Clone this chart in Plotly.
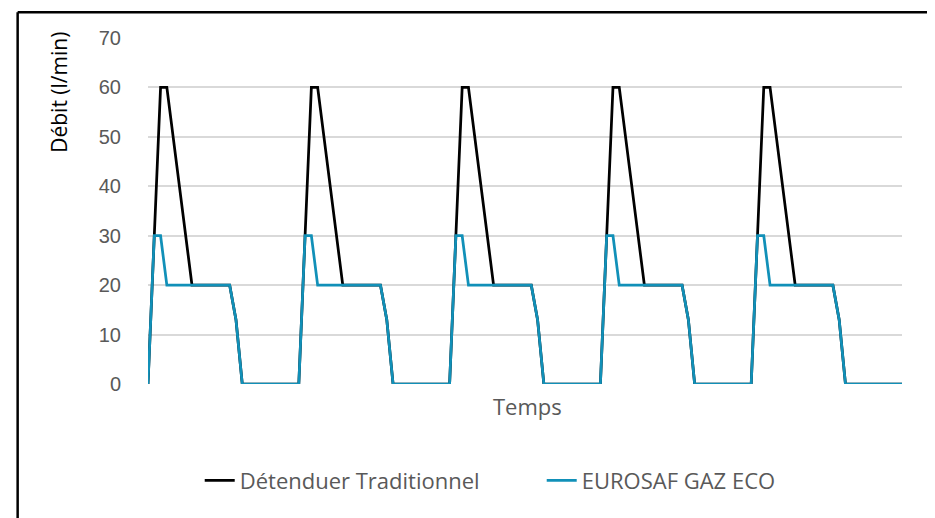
import plotly.graph_objects as go

# Time index (category positions, no labels shown)
temps = list(range(121))

# Flow values (l/min)
detendeur_traditionnel = [
    0, 30, 60, 60, 50, 40, 30, 20, 20, 20, 20, 20, 20, 20, 13, 0, 0, 0, 0, 0, 0, 0, 0, 0,
    0, 30, 60, 60, 50, 40, 30, 20, 20, 20, 20, 20, 20, 20, 13, 0, 0, 0, 0, 0, 0, 0, 0, 0,
    0, 30, 60, 60, 50, 40, 30, 20, 20, 20, 20, 20, 20, 20, 13, 0, 0, 0, 0, 0, 0, 0, 0, 0,
    0, 30, 60, 60, 50, 40, 30, 20, 20, 20, 20, 20, 20, 20, 13, 0, 0, 0, 0, 0, 0, 0, 0, 0,
    0, 30, 60, 60, 50, 40, 30, 20, 20, 20, 20, 20, 20, 20, 13, 0, 0, 0, 0, 0, 0, 0, 0, 0,
    0,
]
eurosaf_gaz_eco = [
    0, 30, 30, 20, 20, 20, 20, 20, 20, 20, 20, 20, 20, 20, 13, 0, 0, 0, 0, 0, 0, 0, 0, 0,
    0, 30, 30, 20, 20, 20, 20, 20, 20, 20, 20, 20, 20, 20, 13, 0, 0, 0, 0, 0, 0, 0, 0, 0,
    0, 30, 30, 20, 20, 20, 20, 20, 20, 20, 20, 20, 20, 20, 13, 0, 0, 0, 0, 0, 0, 0, 0, 0,
    0, 30, 30, 20, 20, 20, 20, 20, 20, 20, 20, 20, 20, 20, 13, 0, 0, 0, 0, 0, 0, 0, 0, 0,
    0, 30, 30, 20, 20, 20, 20, 20, 20, 20, 20, 20, 20, 20, 13, 0, 0, 0, 0, 0, 0, 0, 0, 0,
    0,
]
series_names = ["Détenduer Traditionnel", "EUROSAF GAZ ECO"]
y_ticks = [0, 10, 20, 30, 40, 50, 60, 70]

fig = go.Figure()
fig.add_trace(go.Scatter(x=temps, y=detendeur_traditionnel, mode="lines",
                         name=series_names[0],
                         line=dict(color="#000000", width=2.75)))
fig.add_trace(go.Scatter(x=temps, y=eurosaf_gaz_eco, mode="lines",
                         name=series_names[1],
                         line=dict(color="#1190B8", width=2.75)))

# page offset (body margin of the html page)
OFF = 8
W, H = 935 - OFF, 518 - OFF
PL, PR, PT, PB = 148.3, 902, 37.8, 384.3   # plot area in screen pixels
L, T = PL - OFF, PT - OFF
R, B = W - (PR - OFF), H - (PB - OFF)

def px(xs):
    return (xs - PL) / (PR - PL)

def py(ys):
    return (PB - ys) / (PB - PT)

fig.update_layout(
    width=W, height=H,
    margin=dict(l=L, r=R, t=T, b=B, pad=0, autoexpand=False),
    paper_bgcolor="white", plot_bgcolor="white",
    showlegend=True,
    legend=dict(orientation="h", x=px(200), xanchor="left", y=py(481), yanchor="middle",
                font=dict(family="Open Sans", size=22, color="#595959"),
                entrywidth=297, entrywidthmode="pixels",
                bgcolor="rgba(0,0,0,0)"),
    xaxis=dict(range=[0, 120], showgrid=False, zeroline=False, showline=False,
               showticklabels=False, ticks=""),
    yaxis=dict(range=[0, 70], tickvals=y_ticks, showgrid=True, gridcolor="#D9D9D9",
               gridwidth=1.5, zeroline=False, showline=False, ticks="",
               ticklabelstandoff=26,
               tickfont=dict(family="Liberation Sans", size=20, color="#595959")),
    annotations=[
        dict(text="Débit (l/min)", xref="paper", yref="paper", x=px(59), y=py(92),
             xanchor="center", yanchor="middle", textangle=-90, showarrow=False,
             font=dict(family="Open Sans", size=21, color="#000000")),
        dict(text="Temps", xref="paper", yref="paper", x=px(528), y=py(406),
             xanchor="center", yanchor="middle", showarrow=False,
             font=dict(family="Open Sans", size=22, color="#595959")),
    ],
    shapes=[
        dict(type="line", xref="paper", yref="paper",
             x0=px(18), x1=px(18), y0=py(600), y1=py(12),
             line=dict(color="#000000", width=2.5), layer="above"),
        dict(type="line", xref="paper", yref="paper",
             x0=px(933), x1=px(933), y0=py(600), y1=py(12),
             line=dict(color="#000000", width=2.5), layer="above"),
        dict(type="line", xref="paper", yref="paper",
             x0=px(18), x1=px(933), y0=py(12), y1=py(12),
             line=dict(color="#000000", width=2.5), layer="above"),
    ],
)

fig.write_html("out.html")
